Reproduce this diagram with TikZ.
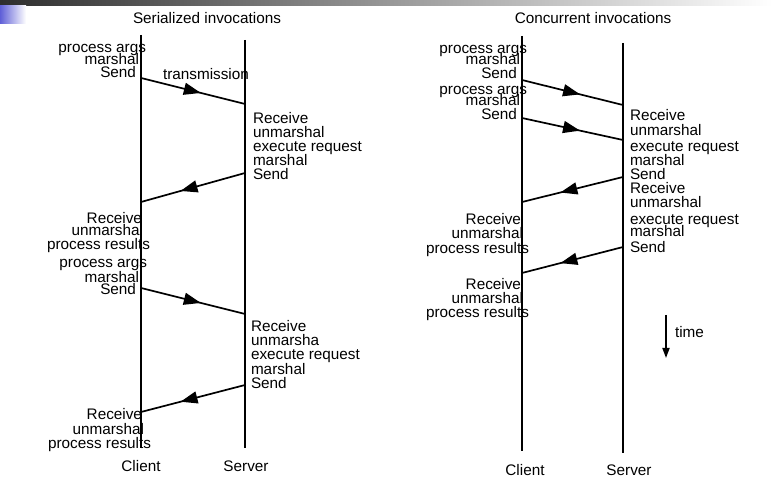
\documentclass[tikz,border=0pt]{standalone}
\usepackage{fontspec}
\setmainfont{Liberation Sans}
\usetikzlibrary{arrows.meta,decorations.markings}
\begin{document}
\begin{tikzpicture}[x=1pt,y=-1pt,
  every node/.style={inner sep=0pt,outer sep=0pt,font=\fontsize{15.3}{15}\selectfont,text height=14pt,text depth=1pt},
  lr/.style={anchor=east},
  ll/.style={anchor=west},
  foot/.style={anchor=base,text height=10pt,text depth=0pt},
  life/.style={line width=2pt},
  msgR/.style={line width=1.7pt,postaction={decorate},decoration={markings,mark=at position 0.575 with {\arrow{Triangle[length=17pt,width=12pt]}}}},
  msgL/.style={line width=1.7pt,postaction={decorate},decoration={markings,mark=at position 0.62 with {\arrow{Triangle[length=17pt,width=12pt]}}}},
  timearrow/.style={line width=1.7pt,-{Triangle[length=10pt,width=7pt]}}]
\fill[white] (0,0) rectangle (772,478);
\useasboundingbox (0,0) rectangle (772,478);
% slide decoration
\shade[left color=black!82,right color=white] (0,0) rectangle (772,5.5);
\shade[left color={rgb,255:red,95;green,95;blue,215},right color=white] (0,6) rectangle (26,24);
% titles
\node (t1) at (207,17) {Serialized invocations};
\node (t2) at (593,17) {Concurrent invocations};
% ---------------- left diagram ----------------
\coordinate (lct) at (141,35);  \coordinate (lcb) at (141,448);
\coordinate (lst) at (245,40);  \coordinate (lsb) at (245,448);
\draw[life] (lct) -- (lcb);
\draw[life] (lst) -- (lsb);
\coordinate (a1) at (141,78);  \coordinate (b1) at (245,104);
\coordinate (b2) at (245,173); \coordinate (a2) at (141,202);
\coordinate (a3) at (141,288); \coordinate (b3) at (245,314);
\coordinate (b4) at (245,385); \coordinate (a4) at (141,412);
\draw[msgR] (a1) -- (b1);
\draw[msgL] (b2) -- (a2);
\draw[msgR] (a3) -- (b3);
\draw[msgL] (b4) -- (a4);
\node[lr] (la1) at (146,46) {process args};
\node[lr] (la2) at (139,58) {marshal};
\node[lr] (la3) at (136,71) {Send};
\node[ll] (ltr) at (163,73) {transmission};
\node[ll] (ls1) at (253,117) {Receive};
\node[ll] (ls2) at (253,131) {unmarshal};
\node[ll] (ls3) at (253,145) {execute request};
\node[ll] (ls4) at (253,159) {marshal};
\node[ll] (ls5) at (253,173) {Send};
\node[lr] (lc1) at (142,217) {Receive};
\node[lr] (lc2) at (143,229) {unmarshal};
\node[lr] (lc3) at (150,243) {process results};
\node[lr] (lc4) at (147,261) {process args};
\node[lr] (lc5) at (139,276) {marshal};
\node[lr] (lc6) at (136,288) {Send};
\node[ll] (lt1) at (251,325) {Receive};
\node[ll] (lt2) at (251,339) {unmarsha};
\node[ll] (lt3) at (251,353) {execute request};
\node[ll] (lt4) at (251,368) {marshal};
\node[ll] (lt5) at (251,382) {Send};
\node[lr] (ld1) at (142,413) {Receive};
\node[lr] (ld2) at (144,428) {unmarshal};
\node[lr] (ld3) at (151,442) {process results};
\node[foot] (lcl) at (141,472) {Client};
\node[foot] (lsl) at (246,472) {Server};
% ---------------- right diagram ----------------
\coordinate (rct) at (522,36);  \coordinate (rcb) at (522,451);
\coordinate (rst) at (623,43);  \coordinate (rsb) at (623,453);
\draw[life] (rct) -- (rcb);
\draw[life] (rst) -- (rsb);
\coordinate (c1) at (522,80);  \coordinate (d1) at (623,105);
\coordinate (c2) at (522,118); \coordinate (d2) at (623,140);
\coordinate (d3) at (623,177); \coordinate (c3) at (522,202);
\coordinate (d4) at (623,247); \coordinate (c4) at (522,273);
\draw[msgR] (c1) -- (d1);
\draw[msgR] (c2) -- (d2);
\draw[msgL] (d3) -- (c3);
\draw[msgL] (d4) -- (c4);
\node[lr] (ra1) at (527,47) {process args};
\node[lr] (ra2) at (520,58) {marshal};
\node[lr] (ra3) at (517,72) {Send};
\node[lr] (ra4) at (527,88) {process args};
\node[lr] (ra5) at (520,99) {marshal};
\node[lr] (ra6) at (517,113) {Send};
\node[ll] (rs1) at (630,114) {Receive};
\node[ll] (rs2) at (630,129) {unmarshal};
\node[ll] (rs3) at (630,145) {execute request};
\node[ll] (rs4) at (630,159) {marshal};
\node[ll] (rs5) at (630,173) {Send};
\node[ll] (rs6) at (630,187) {Receive};
\node[ll] (rs7) at (630,201) {unmarshal};
\node[ll] (rs8) at (630,218) {execute request};
\node[ll] (rs9) at (630,230) {marshal};
\node[ll] (rs10) at (630,246) {Send};
\node[lr] (rc1) at (521,218) {Receive};
\node[lr] (rc2) at (523,232) {unmarshal};
\node[lr] (rc3) at (529,247) {process results};
\node[lr] (rc4) at (521,283) {Receive};
\node[lr] (rc5) at (523,297) {unmarshal};
\node[lr] (rc6) at (529,311) {process results};
\coordinate (tm1) at (666,315); \coordinate (tm2) at (666,358);
\draw[timearrow] (tm1) -- (tm2);
\node[ll] (tml) at (675,331) {time};
\node[foot] (rcl) at (525,476) {Client};
\node[foot] (rsl) at (629,476) {Server};
\end{tikzpicture}
\end{document}
